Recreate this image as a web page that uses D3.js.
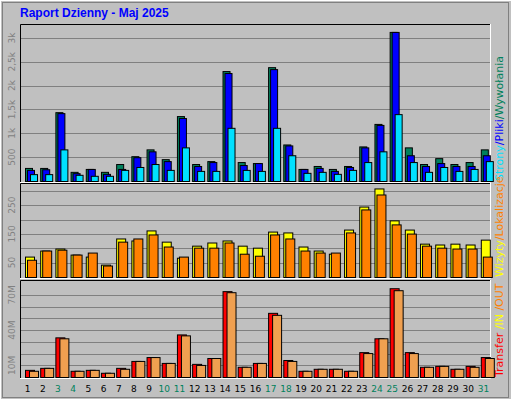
<!DOCTYPE html><html><head><meta charset="utf-8">
<script src="https://cdn.jsdelivr.net/npm/d3@7"></script>
<style>body{margin:0;background:#fff}</style></head><body><svg id="c" width="512" height="400"></svg>
<script>
const days=d3.range(1,32);
const weekend=[3,4,10,11,17,18,24,25,31];
const hits=[274,274,1443,192,253,192,356,520,663,458,1361,356,417,2305,397,376,2387,766,253,315,253,315,725,1197,3126,705,356,479,356,397,663];
const files=[233,246,1423,164,253,150,253,499,622,417,1320,315,397,2264,335,376,2346,746,253,274,212,294,705,1176,3126,540,315,376,315,315,540];
const pages=[144,144,663,130,109,109,233,294,356,233,705,212,212,1115,233,212,1115,540,171,192,150,233,397,622,1402,397,192,294,212,253,417];
const visits=[71,92,99,78,71,43,134,127,162,123,67,109,120,127,109,102,158,155,106,92,81,165,245,308,197,165,116,113,116,113,130];
const sites=[60,92,95,78,85,40,123,134,148,106,71,102,102,120,81,74,148,134,92,85,85,155,235,287,183,151,109,102,99,99,71];
const transfer=[6.1,7.8,33.8,5.3,6.1,3.6,7.8,13.7,17,12,36.3,11.2,16.2,73.2,8.7,12,54.7,14.5,5.3,7,7,5.3,21.2,33,75.7,21.2,8.7,9.5,7,9.5,17];
const outT=[5.3,7.8,33,5.3,6.1,3.6,7,13.7,17,12,35.5,10.3,16.2,72.3,8.7,12,53,13.7,5.3,7,7,5.3,20.4,33,74,20.4,8.7,9.5,7,8.7,16.2];
const topTicks=[500,1000,1500,2000,2500,3000], topLabels=["500","1k","1,5k","2k","2,5k","3k"];
const midTicks=[50,100,150,200,250,300], midLabels=["50","","150","","250",""];
const botTicks=[10,20,30,40,50,60,70], botLabels=["10M","","","40M","","","70M"];

const svg=d3.select("#c");
svg.append("rect").attr("width",512).attr("height",400).attr("fill","#c0c0c0");
svg.append("rect").attr("x",0.5).attr("y",0.5).attr("width",511).attr("height",399).attr("fill","none").attr("stroke","#fff");
svg.append("rect").attr("x",2.5).attr("y",2.5).attr("width",506).attr("height",395).attr("fill","none").attr("stroke","#808080");
svg.append("text").attr("x",20).attr("y",17).attr("fill","#0000ff").attr("font-family","Liberation Sans, Arial").attr("font-size",12).attr("font-weight","bold").text("Raport Dzienny -  Maj 2025");

const x=d3.scaleBand().domain(days).range([20,491]);
const font="DejaVu Sans, Verdana";
function panel(y0,y1,maxv,ticks,labels,series,legend){
  const y=d3.scaleLinear().domain([0,maxv]).range([y1-2,y0+2]);
  const g=svg.append("g");
  g.append("rect").attr("x",20).attr("y",y0).attr("width",471).attr("height",y1-y0).attr("fill","#c0c0c0");
  g.append("path").attr("d",`M20.5,${y1}V${y0+0.5}H491`).attr("stroke","#000").attr("fill","none");
  g.append("path").attr("d",`M20,${y1-0.5}H490.5V${y0}`).attr("stroke","#fff").attr("fill","none");
  ticks.forEach((t,i)=>{
    g.append("line").attr("x1",21).attr("x2",490).attr("y1",Math.round(y(t))+0.5).attr("y2",Math.round(y(t))+0.5).attr("stroke","#808080");
    if(labels[i]) g.append("text").attr("transform",`translate(15,${y(t)}) rotate(-90)`).attr("text-anchor","middle").attr("font-family",font).attr("font-size",9).attr("fill","#808080").text(labels[i]);
  });
  series.forEach(s=>{
    g.selectAll(null).data(days).join("rect")
      .attr("x",d=>x(d)+5+s.off+0.5).attr("width",s.w)
      .attr("y",(d,i)=>y(s.data[i])+0.5).attr("height",(d,i)=>y(0)-y(s.data[i]))
      .attr("fill",s.c).attr("stroke","#000");
  });
  const t=svg.append("text").attr("transform",`translate(503,${y1-2}) rotate(-90)`).attr("font-family",font).attr("font-size",11);
  legend.forEach(l=>t.append("tspan").attr("fill",l[1]).text(l[0]));
}
panel(24,183,3250,topTicks,topLabels,[
  {data:hits,c:"#00805c",off:0,w:7},{data:files,c:"#0000ff",off:2,w:7},{data:pages,c:"#00e0ff",off:5,w:7}],
  [["Strony","#00e0ff"],["/","#0000ff"],["Pliki","#0000ff"],["/","#00805c"],["Wywołania","#00805c"]]);
panel(183,279,320,midTicks,midLabels,[
  {data:visits,c:"#ffff00",off:0,w:9},{data:sites,c:"#ff8000",off:2,w:9}],
  [["Wizyty","#ffff00"],["/","#ff8000"],["Lokalizacje","#ff8000"]]);
panel(280,379,81,botTicks,botLabels,[
  {data:transfer,c:"#ff0000",off:0,w:9},{data:outT,c:"#f0a050",off:4,w:9}],
  [["Transfer","#ff0000"],[" /IN ","#ffff00"],["/OUT","#ff8000"]]);

svg.selectAll(".dl").data(days).join("text").attr("x",d=>x(d)+x.bandwidth()/2).attr("y",392)
  .attr("text-anchor","middle").attr("font-family",font).attr("font-size",9)
  .attr("fill",d=>weekend.includes(d)?"#00805c":"#000").text(d=>d);
</script></body></html>
